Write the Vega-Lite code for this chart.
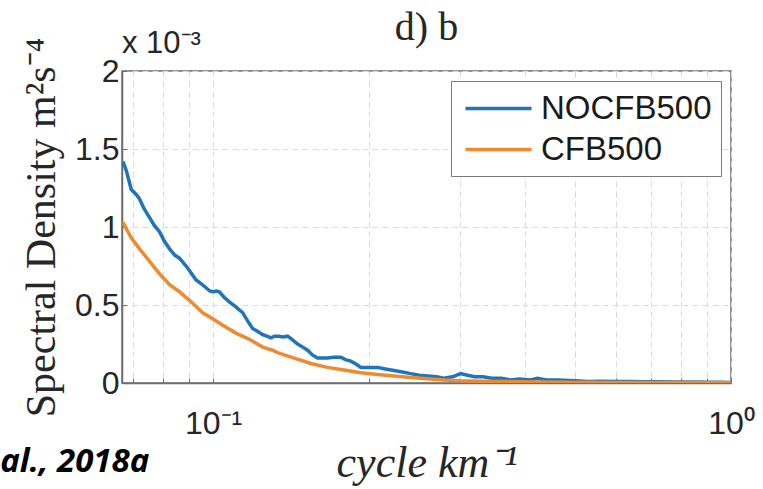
{
  "$schema": "https://vega.github.io/schema/vega-lite/v6.json",
  "autosize": {"type": "none"},
  "width": 609,
  "height": 312,
  "padding": {"left": 122, "top": 71, "right": 32, "bottom": 106},
  "background": "white",
  "title": {
    "text": "d) b",
    "font": "Liberation Serif",
    "fontSize": 40,
    "fontWeight": "normal",
    "color": "#262626",
    "anchor": "middle",
    "offset": -20
  },
  "config": {
    "view": {"stroke": "#6e6e6e", "strokeWidth": 1.5},
    "axis": {
      "labelColor": "#262626",
      "titleColor": "#262626",
      "domainColor": "#6e6e6e",
      "domainWidth": 1.5,
      "gridColor": "#dadada",
      "gridDash": [6, 4],
      "gridWidth": 1,
      "tickColor": "#6e6e6e",
      "labelFont": "Liberation Sans",
      "labelFontSize": 32
    }
  },
  "datasets": {
    "spectra": [
      {"f": 0.0670, "S": 0.00142, "run": "NOCFB500"},
      {"f": 0.0680, "S": 0.00136, "run": "NOCFB500"},
      {"f": 0.0695, "S": 0.00124, "run": "NOCFB500"},
      {"f": 0.0710, "S": 0.00121, "run": "NOCFB500"},
      {"f": 0.0721, "S": 0.00118, "run": "NOCFB500"},
      {"f": 0.0735, "S": 0.00112, "run": "NOCFB500"},
      {"f": 0.0754, "S": 0.00106, "run": "NOCFB500"},
      {"f": 0.0770, "S": 0.00101, "run": "NOCFB500"},
      {"f": 0.0788, "S": 0.00097, "run": "NOCFB500"},
      {"f": 0.0805, "S": 0.00091, "run": "NOCFB500"},
      {"f": 0.0824, "S": 0.00086, "run": "NOCFB500"},
      {"f": 0.0843, "S": 0.00082, "run": "NOCFB500"},
      {"f": 0.0861, "S": 0.00080, "run": "NOCFB500"},
      {"f": 0.0887, "S": 0.00075, "run": "NOCFB500"},
      {"f": 0.0905, "S": 0.00071, "run": "NOCFB500"},
      {"f": 0.0927, "S": 0.00066, "run": "NOCFB500"},
      {"f": 0.0945, "S": 0.00064, "run": "NOCFB500"},
      {"f": 0.0962, "S": 0.00062, "run": "NOCFB500"},
      {"f": 0.0985, "S": 0.00059, "run": "NOCFB500"},
      {"f": 0.1000, "S": 0.000585, "run": "NOCFB500"},
      {"f": 0.1015, "S": 0.00059, "run": "NOCFB500"},
      {"f": 0.1028, "S": 0.000585, "run": "NOCFB500"},
      {"f": 0.1050, "S": 0.00055, "run": "NOCFB500"},
      {"f": 0.1075, "S": 0.00052, "run": "NOCFB500"},
      {"f": 0.1105, "S": 0.00049, "run": "NOCFB500"},
      {"f": 0.1141, "S": 0.00045, "run": "NOCFB500"},
      {"f": 0.1165, "S": 0.00040, "run": "NOCFB500"},
      {"f": 0.1192, "S": 0.00035, "run": "NOCFB500"},
      {"f": 0.1220, "S": 0.00033, "run": "NOCFB500"},
      {"f": 0.1247, "S": 0.00031, "run": "NOCFB500"},
      {"f": 0.1270, "S": 0.00030, "run": "NOCFB500"},
      {"f": 0.1293, "S": 0.00029, "run": "NOCFB500"},
      {"f": 0.1315, "S": 0.00030, "run": "NOCFB500"},
      {"f": 0.1340, "S": 0.00030, "run": "NOCFB500"},
      {"f": 0.1365, "S": 0.000295, "run": "NOCFB500"},
      {"f": 0.1393, "S": 0.00030, "run": "NOCFB500"},
      {"f": 0.1420, "S": 0.00028, "run": "NOCFB500"},
      {"f": 0.1456, "S": 0.00025, "run": "NOCFB500"},
      {"f": 0.1490, "S": 0.00023, "run": "NOCFB500"},
      {"f": 0.1522, "S": 0.00021, "run": "NOCFB500"},
      {"f": 0.1555, "S": 0.00018, "run": "NOCFB500"},
      {"f": 0.1591, "S": 0.00016, "run": "NOCFB500"},
      {"f": 0.1625, "S": 0.00016, "run": "NOCFB500"},
      {"f": 0.1663, "S": 0.00016, "run": "NOCFB500"},
      {"f": 0.1710, "S": 0.000165, "run": "NOCFB500"},
      {"f": 0.1765, "S": 0.000165, "run": "NOCFB500"},
      {"f": 0.1800, "S": 0.00015, "run": "NOCFB500"},
      {"f": 0.1845, "S": 0.00014, "run": "NOCFB500"},
      {"f": 0.1890, "S": 0.00012, "run": "NOCFB500"},
      {"f": 0.1929, "S": 0.00010, "run": "NOCFB500"},
      {"f": 0.2000, "S": 0.00010, "run": "NOCFB500"},
      {"f": 0.2077, "S": 0.00010, "run": "NOCFB500"},
      {"f": 0.2150, "S": 0.00009, "run": "NOCFB500"},
      {"f": 0.2235, "S": 0.00008, "run": "NOCFB500"},
      {"f": 0.2320, "S": 0.00007, "run": "NOCFB500"},
      {"f": 0.2407, "S": 0.00006, "run": "NOCFB500"},
      {"f": 0.2500, "S": 0.00005, "run": "NOCFB500"},
      {"f": 0.2593, "S": 0.000045, "run": "NOCFB500"},
      {"f": 0.2700, "S": 0.00004, "run": "NOCFB500"},
      {"f": 0.2791, "S": 0.00003, "run": "NOCFB500"},
      {"f": 0.2900, "S": 0.00004, "run": "NOCFB500"},
      {"f": 0.3006, "S": 0.00006, "run": "NOCFB500"},
      {"f": 0.3100, "S": 0.00005, "run": "NOCFB500"},
      {"f": 0.3200, "S": 0.00004, "run": "NOCFB500"},
      {"f": 0.3320, "S": 0.00004, "run": "NOCFB500"},
      {"f": 0.3450, "S": 0.00003, "run": "NOCFB500"},
      {"f": 0.3600, "S": 0.00003, "run": "NOCFB500"},
      {"f": 0.3750, "S": 0.00002, "run": "NOCFB500"},
      {"f": 0.3900, "S": 0.000025, "run": "NOCFB500"},
      {"f": 0.4100, "S": 0.00002, "run": "NOCFB500"},
      {"f": 0.4230, "S": 0.00003, "run": "NOCFB500"},
      {"f": 0.4400, "S": 0.00002, "run": "NOCFB500"},
      {"f": 0.4650, "S": 0.00002, "run": "NOCFB500"},
      {"f": 0.5000, "S": 0.000015, "run": "NOCFB500"},
      {"f": 0.5300, "S": 0.00001, "run": "NOCFB500"},
      {"f": 0.5600, "S": 0.000012, "run": "NOCFB500"},
      {"f": 0.6000, "S": 0.00001, "run": "NOCFB500"},
      {"f": 0.6400, "S": 0.000009, "run": "NOCFB500"},
      {"f": 0.6800, "S": 0.000008, "run": "NOCFB500"},
      {"f": 0.7300, "S": 0.000008, "run": "NOCFB500"},
      {"f": 0.7800, "S": 0.000006, "run": "NOCFB500"},
      {"f": 0.8400, "S": 0.000006, "run": "NOCFB500"},
      {"f": 0.9000, "S": 0.000005, "run": "NOCFB500"},
      {"f": 0.9500, "S": 0.000005, "run": "NOCFB500"},
      {"f": 1.0000, "S": 0.000004, "run": "NOCFB500"},
      {"f": 0.0670, "S": 0.00103, "run": "CFB500"},
      {"f": 0.0682, "S": 0.00098, "run": "CFB500"},
      {"f": 0.0695, "S": 0.00093, "run": "CFB500"},
      {"f": 0.0721, "S": 0.00086, "run": "CFB500"},
      {"f": 0.0754, "S": 0.00078, "run": "CFB500"},
      {"f": 0.0788, "S": 0.00070, "run": "CFB500"},
      {"f": 0.0824, "S": 0.00063, "run": "CFB500"},
      {"f": 0.0861, "S": 0.000585, "run": "CFB500"},
      {"f": 0.0900, "S": 0.00053, "run": "CFB500"},
      {"f": 0.0955, "S": 0.00045, "run": "CFB500"},
      {"f": 0.1000, "S": 0.00041, "run": "CFB500"},
      {"f": 0.1044, "S": 0.00037, "run": "CFB500"},
      {"f": 0.1107, "S": 0.00032, "run": "CFB500"},
      {"f": 0.1175, "S": 0.00028, "run": "CFB500"},
      {"f": 0.1247, "S": 0.00023, "run": "CFB500"},
      {"f": 0.1303, "S": 0.00021, "run": "CFB500"},
      {"f": 0.1332, "S": 0.000195, "run": "CFB500"},
      {"f": 0.1434, "S": 0.00016, "run": "CFB500"},
      {"f": 0.1545, "S": 0.000125, "run": "CFB500"},
      {"f": 0.1663, "S": 0.00010, "run": "CFB500"},
      {"f": 0.1791, "S": 0.000083, "run": "CFB500"},
      {"f": 0.1929, "S": 0.000066, "run": "CFB500"},
      {"f": 0.2077, "S": 0.000055, "run": "CFB500"},
      {"f": 0.2235, "S": 0.000045, "run": "CFB500"},
      {"f": 0.2407, "S": 0.000036, "run": "CFB500"},
      {"f": 0.2593, "S": 0.000028, "run": "CFB500"},
      {"f": 0.2791, "S": 0.00002, "run": "CFB500"},
      {"f": 0.3006, "S": 0.000015, "run": "CFB500"},
      {"f": 0.3300, "S": 0.000012, "run": "CFB500"},
      {"f": 0.3700, "S": 0.000009, "run": "CFB500"},
      {"f": 0.4200, "S": 0.000007, "run": "CFB500"},
      {"f": 0.5000, "S": 0.000005, "run": "CFB500"},
      {"f": 0.6000, "S": 0.000004, "run": "CFB500"},
      {"f": 0.7000, "S": 0.000003, "run": "CFB500"},
      {"f": 0.8000, "S": 0.0000025, "run": "CFB500"},
      {"f": 1.0000, "S": 0.000002, "run": "CFB500"}
    ],
    "notes": [
      {"text": "x 10⁻³", "f": 0.0667, "S": 0.00207}
    ],
    "credit": [
      {"text": "al., 2018a", "f": 0.0753, "S": -0.000569}
    ]
  },
  "layer": [
    {
      "data": {"name": "spectra"},
      "mark": {"type": "line", "strokeWidth": 3.5, "clip": true},
      "encoding": {
        "x": {
          "field": "f",
          "type": "quantitative",
          "scale": {"type": "log", "domain": [0.0667, 1], "nice": false},
          "axis": {
            "values": [0.07, 0.08, 0.09, 0.1, 0.2, 0.3, 0.4, 0.5, 0.6, 0.7, 0.8, 0.9, 1],
            "labelExpr": "datum.value == 0.1 ? '10⁻¹' : (datum.value == 1 ? '10⁰' : '')",
            "labelOverlap": false,
            "labelFlush": false,
            "labelPadding": 30,
            "tickSize": -5,
            "grid": true,
            "title": "cycle km⁻¹",
            "titleFont": "Liberation Serif",
            "titleFontStyle": "italic",
            "titleFontWeight": "normal",
            "titleFontSize": 44,
            "titlePadding": 2
          }
        },
        "y": {
          "field": "S",
          "type": "quantitative",
          "scale": {"domain": [0, 0.002], "nice": false, "zero": false},
          "axis": {
            "values": [0, 0.0005, 0.001, 0.0015, 0.002],
            "labelExpr": "format(datum.value * 1000, '.2~f')",
            "labelPadding": 8,
            "tickSize": -5,
            "grid": true,
            "title": "Spectral Density m²s⁻⁴",
            "titleFont": "Liberation Serif",
            "titleFontWeight": "normal",
            "titleFontSize": 42,
            "titlePadding": 11
          }
        },
        "color": {
          "field": "run",
          "type": "nominal",
          "scale": {"domain": ["NOCFB500", "CFB500"], "range": ["#1F74BA", "#EF8A2F"]},
          "legend": {
            "title": null,
            "orient": "top-right",
            "offset": 10,
            "fillColor": "white",
            "strokeColor": "#7a7a7a",
            "padding": 9,
            "symbolType": "M-2,0H2",
            "symbolStrokeWidth": 3.5,
            "symbolSize": 1089,
            "symbolOffset": 20,
            "labelFont": "Liberation Sans",
            "labelFontSize": 33,
            "labelColor": "#1a1a1a",
            "labelOffset": 24,
            "labelLimit": 400,
            "rowPadding": 5
          }
        }
      }
    },
    {
      "data": {"name": "notes"},
      "mark": {"type": "text", "align": "left", "baseline": "bottom", "font": "Liberation Sans", "fontSize": 31, "color": "#262626"},
      "encoding": {
        "x": {"field": "f", "type": "quantitative"},
        "y": {"field": "S", "type": "quantitative"},
        "text": {"field": "text"}
      }
    },
    {
      "data": {"name": "credit"},
      "mark": {"type": "text", "align": "right", "baseline": "alphabetic", "font": "Open Sans", "fontSize": 33, "fontStyle": "italic", "fontWeight": "bold", "color": "black"},
      "encoding": {
        "x": {"field": "f", "type": "quantitative"},
        "y": {"field": "S", "type": "quantitative"},
        "text": {"field": "text"}
      }
    }
  ]
}
